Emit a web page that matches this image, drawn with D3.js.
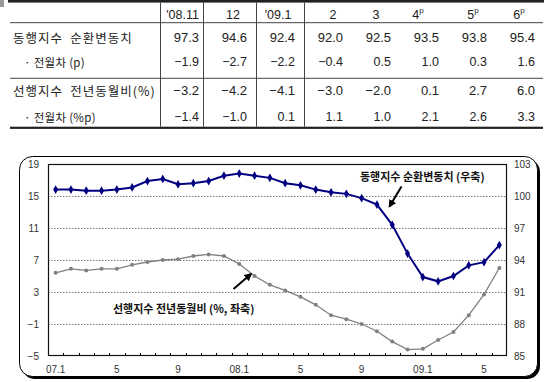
<!DOCTYPE html>
<html><head><meta charset="utf-8">
<script src="https://cdn.jsdelivr.net/npm/d3@7"></script>
<style>body{margin:0;background:#fff}svg{display:block}</style>
</head><body>
<svg id="c" width="550" height="382"></svg>
<script>
// ---------- data ----------
const tableCols = ["'08.11","12","'09.1","2","3","4","5","6"];
const tablePrelim = [false,false,false,false,false,true,true,true];
const coincValues = [97.3,94.6,92.4,92.0,92.5,93.5,93.8,95.4];
const coincDiff   = [-1.9,-2.7,-2.2,-0.4,0.5,1.0,0.3,1.6];
const leadValues  = [-3.2,-4.2,-4.1,-3.0,-2.0,0.1,2.7,6.0];
const leadDiff    = [-1.4,-1.0,0.1,1.1,1.0,2.1,2.6,3.3];
const rowLabels = ["동행지수\u2002순환변동치","· 전월차 (p)","선행지수\u2002전년동월비(%)","· 전월차 (%p)"];

const months = ["07.1","07.2","07.3","07.4","07.5","07.6","07.7","07.8","07.9","07.10","07.11","07.12",
                "08.1","08.2","08.3","08.4","08.5","08.6","08.7","08.8","08.9","08.10","08.11","08.12",
                "09.1","09.2","09.3","09.4","09.5","09.6"];
// 동행지수 순환변동치 (right axis)
const coincidentSeries = [100.6,100.6,100.5,100.5,100.6,100.8,101.4,101.6,101.1,101.2,101.4,101.9,
                          102.1,101.9,101.7,101.2,101.0,100.6,100.35,100.2,99.8,99.2,97.3,94.6,
                          92.4,92.0,92.5,93.5,93.8,95.4];
// 선행지수 전년동월비 (left axis)
const leadingSeries = [5.4,5.9,5.7,5.9,5.9,6.4,6.75,7.0,7.1,7.5,7.7,7.5,
                       6.5,5.0,3.9,3.2,2.4,1.4,0.1,-0.4,-1.0,-1.9,-3.2,-4.2,
                       -4.1,-3.0,-2.0,0.1,2.7,6.0];
const xTickMonths = ["07.1","07.5","07.9","08.1","08.5","08.9","09.1","09.5"];
const xTickLabels = ["07.1","5","9","08.1","5","9","09.1","5"];
const leftTicks  = [-5,-1,3,7,11,15,19];
const rightTicks = [85,88,91,94,97,100,103];

// ---------- table ----------
const svg = d3.select("#c");
const fmt = v => (v < 0 ? "\u2212" : "") + Math.abs(v).toFixed(1);
const T = svg.append("g");
const lineCol = "#444";
T.append("rect").attr("x",8).attr("y",0).attr("width",536).attr("height",2.6).attr("fill","#222");
T.append("rect").attr("x",0).attr("y",0).attr("width",4).attr("height",7).attr("fill","#999");
T.append("line").attr("x1",10).attr("x2",543).attr("y1",22.7).attr("y2",22.7).attr("stroke",lineCol).attr("stroke-width",1);
T.append("line").attr("x1",10).attr("x2",543).attr("y1",78.3).attr("y2",78.3).attr("stroke",lineCol).attr("stroke-width",1);
T.append("rect").attr("x",10).attr("y",126.7).attr("width",533).attr("height",2.2).attr("fill","#222");
[160.5,203.5,256.5,304.5].forEach(x=>{
  T.append("line").attr("x1",x).attr("x2",x).attr("y1",2.6).attr("y2",126.7).attr("stroke",lineCol).attr("stroke-width",1);
});
const headerX = [182.5,233,278,333,376,418,473,519];
const numRight = tableCols.map((d,i)=>199+48*i);
const rowY = [37.3,61.7,90,116.7];
const hdr = T.selectAll("text.h").data(tableCols).enter().append("text")
  .attr("class","h").attr("x",(d,i)=>headerX[i]).attr("y",15).attr("dominant-baseline","central")
  .attr("text-anchor","middle").attr("font-family","Liberation Sans, Arial, sans-serif")
  .attr("font-size",12.5).attr("fill","#222");
hdr.append("tspan").text(d=>d);
hdr.filter((d,i)=>tablePrelim[i]).append("tspan").text("p").attr("font-size",8).attr("dy",-5);
T.selectAll("text.rl").data(rowLabels).enter().append("text")
  .attr("class","rl").attr("x",(d,i)=> i%2 ? 24 : 13).attr("y",(d,i)=>rowY[i]).attr("dominant-baseline","central")
  .attr("font-family","Noto Sans CJK KR, sans-serif").attr("font-size",(d,i)=> i%2 ? 11.5 : 12.5)
  .attr("letter-spacing",(d,i)=> i%2 ? 0.3 : 1).attr("fill","#222").text(d=>d);
[coincValues,coincDiff,leadValues,leadDiff].forEach((row,r)=>{
  T.selectAll("text.n"+r).data(row).enter().append("text")
   .attr("class","n"+r).attr("x",(d,i)=>numRight[i]).attr("y",rowY[r]).attr("dominant-baseline","central")
   .attr("text-anchor","end").attr("font-family","Liberation Sans, Arial, sans-serif")
   .attr("font-size",r%2 ? 12.5 : 13).attr("fill","#222").text(d=>fmt(d));
});

// ---------- chart frame ----------
const defs = svg.append("defs");
defs.append("marker").attr("id","ah").attr("viewBox","0 0 10 10").attr("refX",8).attr("refY",5)
  .attr("markerWidth",4).attr("markerHeight",4).attr("orient","auto")
  .append("path").attr("d","M0,0 L10,5 L0,10 Z").attr("fill","#000");
svg.append("rect").attr("x",22).attr("y",159).attr("width",518).attr("height",220).attr("rx",13).attr("fill","#000");
svg.append("rect").attr("x",19.5).attr("y",156.5).attr("width",518).attr("height",220).attr("rx",13)
  .attr("fill","#fff").attr("stroke","#000").attr("stroke-width",1);

// ---------- scales ----------
const L=48, R=507, TOP=164, BOT=356;
const x = d3.scaleBand().domain(months).range([L,R]).padding(0);
const cx = d => x(d) + x.bandwidth()/2;
const yL = d3.scaleLinear().domain([-5,19]).range([BOT,TOP]);
const yR = d3.scaleLinear().domain([85,103]).range([BOT,TOP]);

// grid
svg.append("g").selectAll("line").data(leftTicks.filter(v=>v>-5 && v<19)).enter().append("line")
  .attr("x1",L).attr("x2",R).attr("y1",d=>Math.round(yL(d))+0.5).attr("y2",d=>Math.round(yL(d))+0.5)
  .attr("stroke","#777").attr("stroke-width",1).attr("stroke-dasharray","1.5,1.5");

// axes
const axFont = g => g.selectAll("text").attr("font-family","Liberation Sans, Arial, sans-serif").attr("font-size",10).attr("fill","#333");
svg.append("g").attr("transform",`translate(${L},0)`)
  .call(d3.axisLeft(yL).tickValues(leftTicks).tickSize(0).tickPadding(9))
  .call(g=>g.select(".domain").remove()).call(axFont);
svg.append("g").attr("transform",`translate(${R},0)`)
  .call(d3.axisRight(yR).tickValues(rightTicks).tickSize(0).tickPadding(7))
  .call(g=>g.select(".domain").remove()).call(axFont);
svg.append("g").attr("transform",`translate(0,${BOT})`)
  .call(d3.axisBottom(x).tickValues(xTickMonths).tickFormat((d,i)=>xTickLabels[i]).tickSize(0).tickPadding(10))
  .call(g=>g.select(".domain").remove()).call(axFont);
// minor ticks at category boundaries
svg.append("g").selectAll("line").data(months.slice(1)).enter().append("line")
  .attr("x1",d=>Math.round(x(d))+0.5).attr("x2",d=>Math.round(x(d))+0.5).attr("y1",BOT).attr("y2",BOT-3)
  .attr("stroke","#000").attr("stroke-width",1);
svg.append("rect").attr("x",L+0.5).attr("y",TOP+0.5).attr("width",R-L-1).attr("height",BOT-TOP-1)
  .attr("fill","none").attr("stroke","#111").attr("stroke-width",1.2);

// leading series (gray)
svg.append("path").datum(leadingSeries).attr("fill","none").attr("stroke","#808080").attr("stroke-width",1.3)
  .attr("d",d3.line().x((d,i)=>cx(months[i])).y(d=>yL(d)));
svg.append("g").selectAll("circle").data(leadingSeries).enter().append("circle")
  .attr("cx",(d,i)=>cx(months[i])).attr("cy",d=>yL(d)).attr("r",2).attr("fill","#808080");

// coincident series (navy)
svg.append("path").datum(coincidentSeries).attr("fill","none").attr("stroke","#000080").attr("stroke-width",2)
  .attr("d",d3.line().x((d,i)=>cx(months[i])).y(d=>yR(d)));
svg.append("g").selectAll("path").data(coincidentSeries).enter().append("path")
  .attr("transform",(d,i)=>`translate(${cx(months[i])},${yR(d)})`)
  .attr("d",d3.symbol(d3.symbolDiamond,22)).attr("fill","#000080");

// annotations
svg.append("text").attr("x",360).attr("y",176).attr("dominant-baseline","central")
  .attr("font-family","Noto Sans CJK KR, sans-serif").attr("font-weight","bold").attr("font-size",11)
  .attr("fill","#111").text("동행지수 순환변동치 (우축)");
svg.append("line").attr("x1",401.5).attr("y1",186.5).attr("x2",389.5).attr("y2",206.5)
  .attr("stroke","#000").attr("stroke-width",2).attr("marker-end","url(#ah)");
svg.append("text").attr("x",113).attr("y",308).attr("dominant-baseline","central")
  .attr("font-family","Noto Sans CJK KR, sans-serif").attr("font-weight","bold").attr("font-size",11)
  .attr("fill","#111").text("선행지수 전년동월비 (%, 좌축)");
svg.append("line").attr("x1",233.5).attr("y1",289).attr("x2",251).attr("y2",274)
  .attr("stroke","#000").attr("stroke-width",2).attr("marker-end","url(#ah)");
</script>
</body></html>
